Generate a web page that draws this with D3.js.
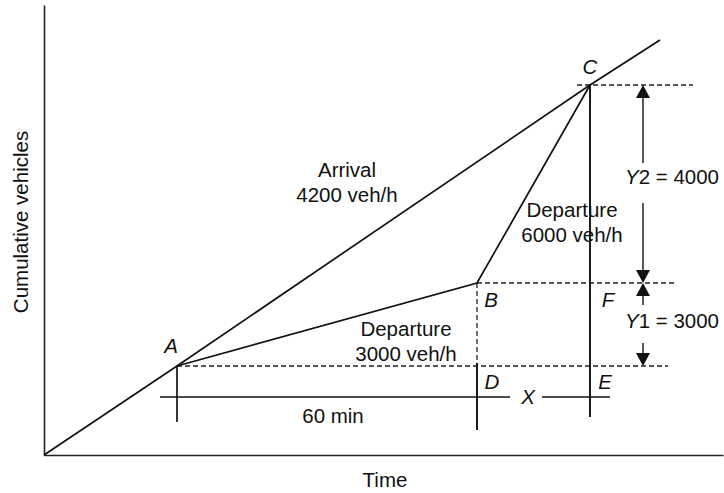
<!DOCTYPE html>
<html>
<head>
<meta charset="utf-8">
<script src="https://cdn.jsdelivr.net/npm/d3@7"></script>
<style>
  html, body { margin: 0; padding: 0; background: #fff; }
  svg { display: block; }
  text { font-family: "Liberation Sans", Arial, Helvetica, sans-serif; fill: #111; }
</style>
</head>
<body>
<svg id="chart" width="724" height="493"></svg>
<script>
// Queueing diagram: cumulative arrivals vs. departures (time in minutes, vehicles)
const arrivalRate = 4200;     // veh/h
const departRate1 = 3000;     // veh/h, A -> B
const departRate2 = 6000;     // veh/h, B -> C
const queueMinutes = 60;      // A -> B

// Key times (min) and cumulative counts (veh)
const pointNames = ["A", "B", "C"];
const pointTimes = [30, 90, 130];
const pointCounts = [2100, 5100, 9100];

// Arrival curve vertices (time, count)
const arrivalTimes = [0, 30, 130, 140];
const arrivalCounts = [0, 2100, 9100, 9800];

// Departure curve vertices
const departTimes = [30, 90, 130];
const departCounts = [2100, 5100, 9100];

const y1Value = pointCounts[1] - pointCounts[0]; // 3000
const y2Value = pointCounts[2] - pointCounts[1]; // 4000

const svg = d3.select("#chart");

// The sketch is schematic, so the scales are piecewise linear
const x = d3.scaleLinear()
  .domain([0, 30, 90, 130, 140, 150])
  .range([44, 177, 477, 590, 660, 723]);
const y = d3.scaleLinear()
  .domain([0, 2100, 5100, 9100, 9800, 10500])
  .range([455, 366, 283, 85, 40, 5]);

const ink = "#111";
const FS = 20.5;

// Axes (bare lines, no ticks)
const axisX = d3.axisBottom(x).tickValues([]).tickSizeOuter(0);
const axisY = d3.axisLeft(y).tickValues([]).tickSizeOuter(0);
svg.append("g").attr("transform", `translate(0,${y(0)})`).call(axisX)
  .select(".domain").attr("stroke", "#222").attr("stroke-width", 1.6);
svg.append("g").attr("transform", `translate(${x(0)},0)`).call(axisY)
  .select(".domain").attr("stroke", "#222").attr("stroke-width", 1.6);

const line = d3.line().x(d => x(d[0])).y(d => y(d[1]));

// Reference dashed lines
const dash = "5,3";
const dashInk = "#222";
function hline(yv, x0, x1) {
  svg.append("line").attr("x1", x0).attr("x2", x1).attr("y1", y(yv)).attr("y2", y(yv))
    .attr("stroke", dashInk).attr("stroke-width", 1.3).attr("stroke-dasharray", dash);
}
hline(pointCounts[0], x(pointTimes[0]), 668);
hline(pointCounts[1], x(pointTimes[1]), 677);
hline(pointCounts[2], 577, 693);
svg.append("line")
  .attr("x1", x(pointTimes[1])).attr("x2", x(pointTimes[1]))
  .attr("y1", y(pointCounts[1])).attr("y2", y(pointCounts[0]))
  .attr("stroke", dashInk).attr("stroke-width", 1.3).attr("stroke-dasharray", dash);

// Arrival and departure curves
svg.append("path").datum(d3.zip(arrivalTimes, arrivalCounts)).attr("d", line)
  .attr("fill", "none").attr("stroke", ink).attr("stroke-width", 1.7);
svg.append("path").datum(d3.zip(departTimes, departCounts)).attr("d", line)
  .attr("fill", "none").attr("stroke", ink).attr("stroke-width", 1.7);

// Vertical C-E and time-span markers
function seg(x1, y1, x2, y2, w) {
  svg.append("line").attr("x1", x1).attr("y1", y1).attr("x2", x2).attr("y2", y2)
    .attr("stroke", ink).attr("stroke-width", w || 1.7);
}
const spanY = 397;
seg(x(pointTimes[2]), y(pointCounts[2]), x(pointTimes[2]), 417, 1.9);
seg(x(pointTimes[0]), y(pointCounts[0]), x(pointTimes[0]), 422);
seg(x(pointTimes[1]), 363, x(pointTimes[1]), 430, 1.9);
seg(160, spanY, 510, spanY);
seg(542, spanY, 610, spanY);

// Dimension arrows
const ax = 643;
function arrow(tipY, dir) { // dir: -1 points up, +1 points down
  const L = 13, W = 7;
  svg.append("path")
    .attr("d", `M${ax},${tipY} L${ax - W},${tipY - dir * L} L${ax + W},${tipY - dir * L} Z`)
    .attr("fill", ink);
}
const yC = y(pointCounts[2]), yB = y(pointCounts[1]), yA = y(pointCounts[0]);
seg(ax, yC + 10, ax, 163, 1.4); arrow(yC, -1);
seg(ax, 203, ax, yB - 10, 1.4); arrow(yB, 1);
seg(ax, yB + 10, ax, 305, 1.4); arrow(yB, -1);
seg(ax, 343, ax, yA - 10, 1.4); arrow(yA, 1);

// Text helpers
function label(parts, px, py, anchor) {
  const t = svg.append("text").attr("x", px).attr("y", py)
    .attr("font-size", FS).attr("text-anchor", anchor || "middle");
  parts.forEach(p => t.append("tspan").attr("font-style", p[1] ? "italic" : "normal").text(p[0]));
  return t;
}
const fmt = d3.format("d");

label([["Arrival"]], 347, 177);
label([[`${fmt(arrivalRate)} veh/h`]], 347, 202);
label([["Departure"]], 406, 336);
label([[`${fmt(departRate1)} veh/h`]], 406, 361);
label([["Departure"]], 572, 217);
label([[`${fmt(departRate2)} veh/h`]], 572, 242);

label([["Y", true], [`2 = ${fmt(y2Value)}`]], 672, 184);
label([["Y", true], [`1 = ${fmt(y1Value)}`]], 672, 328);

label([[pointNames[0], true]], 171, 353);
label([[pointNames[1], true]], 491, 307);
label([[pointNames[2], true]], 590, 74);
label([["D", true]], 492, 389);
label([["E", true]], 605, 389);
label([["F", true]], 608, 307);
label([["X", true]], 528, 404);
label([[`${queueMinutes} min`]], 333, 423);

label([["Time"]], 385, 487);
svg.append("text").attr("transform", "translate(28,222) rotate(-90)")
  .attr("text-anchor", "middle").attr("font-size", FS).text("Cumulative vehicles");
</script>
</body>
</html>
